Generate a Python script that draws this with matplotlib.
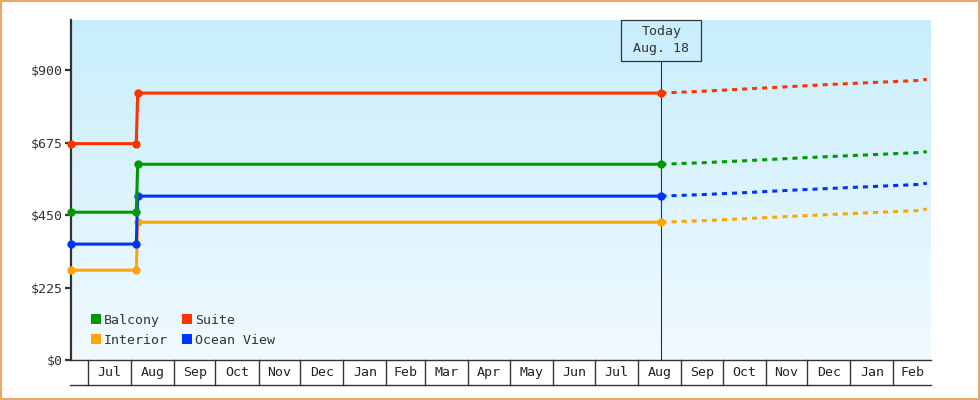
import matplotlib
matplotlib.use('Agg')
import matplotlib.pyplot as plt
import matplotlib.dates as mdates
from matplotlib.patches import Patch, Rectangle
from matplotlib.transforms import blended_transform_factory
from datetime import datetime
import numpy as np

# ---------------- data ----------------
series_names = ["Balcony", "Interior", "Suite", "Ocean View"]
series_colors = ["#009900", "#FFA500", "#FF3300", "#0033FF"]

hist_dates = [datetime(2014, 6, 19), datetime(2014, 8, 5), datetime(2014, 8, 6), datetime(2015, 8, 18)]
balcony_hist = [459, 459, 608, 608]
interior_hist = [279, 279, 428, 428]
suite_hist = [672, 672, 829, 829]
ocean_hist = [360, 360, 509, 509]

forecast_dates = [datetime(2015, 8, 18), datetime(2015, 9, 18), datetime(2015, 10, 18),
                  datetime(2015, 11, 18), datetime(2015, 12, 18), datetime(2016, 1, 18),
                  datetime(2016, 2, 18), datetime(2016, 2, 25)]
balcony_fc = [608, 613, 619, 626, 632, 638, 644, 647]
interior_fc = [428, 433, 439, 446, 452, 458, 464, 469]
suite_fc = [829, 835, 842, 849, 856, 862, 868, 872]
ocean_fc = [509, 514, 520, 527, 533, 539, 545, 549]

y_ticks = [0, 225, 450, 675, 900]
y_tick_labels = ["$0", "$225", "$450", "$675", "$900"]

month_labels = ["Jul", "Aug", "Sep", "Oct", "Nov", "Dec", "Jan", "Feb", "Mar", "Apr",
                "May", "Jun", "Jul", "Aug", "Sep", "Oct", "Nov", "Dec", "Jan", "Feb"]
month_starts = [datetime(2014, m, 1) for m in range(7, 13)] + \
               [datetime(2015, m, 1) for m in range(1, 13)] + \
               [datetime(2016, m, 1) for m in range(1, 3)]

today_date = datetime(2015, 8, 18)
today_label = "Today\nAug. 18"

x_start = datetime(2014, 6, 19)
x_end = datetime(2016, 2, 28)
y_max = 1056

# ---------------- figure ----------------
FONT = "DejaVu Sans Mono"
TXT = "#333333"
W, H = 980, 400
fig = plt.figure(figsize=(9.8, 4.0), dpi=100)
fig.patch.set_facecolor("white")
ax = fig.add_axes([71 / W, (H - 360) / H, 860 / W, 340 / H])

x0, x1 = mdates.date2num(x_start), mdates.date2num(x_end)
ax.set_xlim(x0, x1)
ax.set_ylim(0, y_max)

# gradient background
grad = np.linspace(0, 1, 256)[:, None]
top = np.array([200, 238, 252]) / 255
bot = np.array([241, 250, 255]) / 255
img = top[None, None, :] * (1 - grad[:, :, None]) + bot[None, None, :] * grad[:, :, None]
ax.imshow(img, extent=[x0, x1, 0, y_max], aspect="auto", origin="upper", zorder=0)
ax.set_facecolor("none")

for s in ["top", "right", "bottom"]:
    ax.spines[s].set_visible(False)
ax.spines["left"].set_color(TXT)
ax.spines["left"].set_linewidth(1.6)

ax.set_yticks(y_ticks)
ax.set_yticklabels(y_tick_labels, fontfamily=FONT, fontsize=9.5, color=TXT)
ax.tick_params(axis="y", length=4, width=1.6, color=TXT, pad=2)
ax.set_xticks([])

lw = 2.2
hist = [balcony_hist, interior_hist, suite_hist, ocean_hist]
fc = [balcony_fc, interior_fc, suite_fc, ocean_fc]
order = [1, 3, 0, 2]
for i in order:
    ax.plot(hist_dates, hist[i], color=series_colors[i], lw=lw, marker="o", ms=6,
            markeredgewidth=0, zorder=3, clip_on=False)
    ax.plot(forecast_dates, fc[i], color=series_colors[i], lw=lw, dashes=(1.65, 1.65),
            zorder=3)

# today line and box
trans = blended_transform_factory(ax.transData, ax.transAxes)
box_top = 1.0
box_bottom = (360 - 60.7) / 340
ax.plot([mdates.date2num(today_date)] * 2, [0, box_bottom], transform=trans,
        color=TXT, lw=0.8, zorder=2)
ax.text(mdates.date2num(today_date), (box_top + box_bottom) / 2, today_label,
        transform=trans, ha="center", va="center", fontfamily=FONT, fontsize=9.5,
        color=TXT, linespacing=1.4, zorder=5)
bw = 80 / 860 * (x1 - x0)
ax.add_patch(Rectangle((mdates.date2num(today_date) - bw / 2, box_bottom), bw, box_top - box_bottom,
                       transform=trans, fill=False, edgecolor=TXT, lw=0.9, zorder=5, clip_on=False))

# x axis month cells
cell_h = 25 / 340
ax.plot([x0, x1], [0, 0], transform=trans, color=TXT, lw=1.0, clip_on=False, zorder=4)
ax.plot([x0 - 1 / 860 * (x1 - x0), x1], [-cell_h, -cell_h], transform=trans, color=TXT,
        lw=1.0, clip_on=False, zorder=4)
for k, (lab, st) in enumerate(zip(month_labels, month_starts)):
    s = mdates.date2num(st)
    e = mdates.date2num(month_starts[k + 1]) if k + 1 < len(month_starts) else x1
    e = min(e, x1)
    ax.plot([s, s], [0, -cell_h], transform=trans, color=TXT, lw=1.0, clip_on=False)
    ax.text((s + e) / 2, -cell_h / 2, lab, transform=trans, ha="center", va="center",
            fontfamily=FONT, fontsize=9.5, color="#222222")

# legend
handles = [Patch(facecolor=c, edgecolor="none") for c in series_colors]
leg = ax.legend(handles, series_names, loc="lower left", ncol=2, frameon=False,
                bbox_to_anchor=(20 / 860, 13 / 340), borderaxespad=0, borderpad=0,
                handlelength=0.78, handleheight=0.78, handletextpad=0.2,
                columnspacing=1.05, labelspacing=0.55,
                prop={"family": FONT, "size": 9.5})
for t in leg.get_texts():
    t.set_color(TXT)

# figure border
fig.patches.append(Rectangle((0.001, 0.002), 0.998, 0.996, transform=fig.transFigure,
                             fill=False, edgecolor="#E8A868", lw=1.5))

fig.savefig("out.png", dpi=100)
